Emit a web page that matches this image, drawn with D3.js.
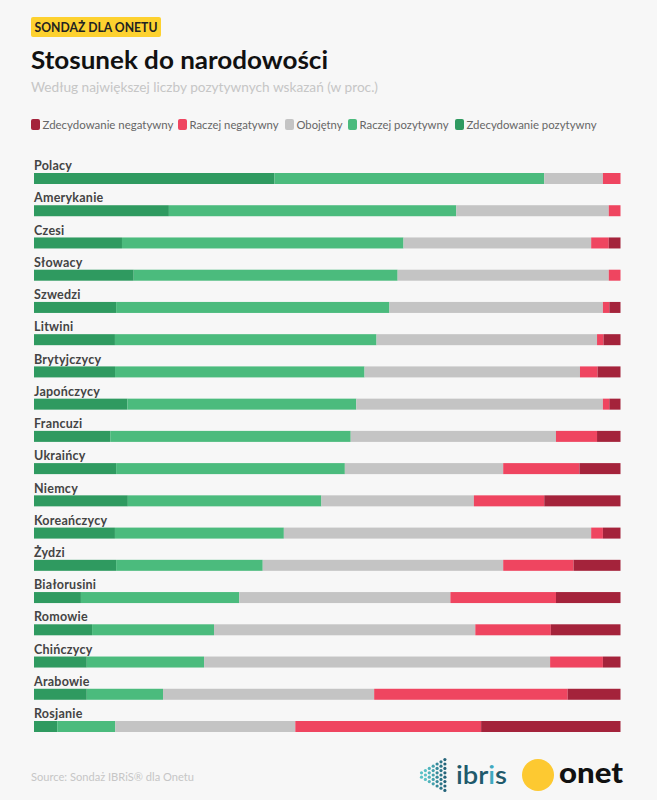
<!DOCTYPE html>
<html>
<head>
<meta charset="utf-8">
<script src="https://cdn.jsdelivr.net/npm/d3@7"></script>
<style>
  html, body { margin: 0; background: #f7f7f7; }
  text { font-family: Lato, "Noto Sans", sans-serif; }
</style>
</head>
<body>
<svg width="657" height="800"></svg>
<script>
const nations = ["Polacy", "Amerykanie", "Czesi", "Słowacy", "Szwedzi", "Litwini", "Brytyjczycy", "Japończycy", "Francuzi", "Ukraińcy", "Niemcy", "Koreańczycy", "Żydzi", "Białorusini", "Romowie", "Chińczycy", "Arabowie", "Rosjanie"];

const strongPositive = [41, 23, 15, 17, 14, 13.8, 13.8, 15.9, 13, 14, 16, 13.8, 14, 8, 10, 9, 9, 4];
const ratherPositive = [46, 49, 48, 45, 46.6, 44.6, 42.5, 39, 41, 39, 33, 28.8, 25, 27, 21, 20, 13, 10];
const neutral = [10, 26, 32, 36, 36.4, 37.6, 36.7, 42, 35, 27, 26, 52.4, 41, 36, 45, 59, 36, 31];
const ratherNegative = [3, 2, 3, 2, 1.1, 1.1, 3, 1.1, 7, 13, 12, 2, 12, 18, 13, 9, 33, 32];
const strongNegative = [0, 0, 2, 0, 1.9, 2.9, 3.9, 1.9, 4, 7, 13, 3, 8, 11, 12, 3, 9, 24];

const seriesKeys = ["Zdecydowanie pozytywny", "Raczej pozytywny", "Obojętny", "Raczej negatywny", "Zdecydowanie negatywny"];
const seriesValues = [strongPositive, ratherPositive, neutral, ratherNegative, strongNegative];
const seriesColors = ["#2f9a60", "#4bbb7d", "#c4c4c4", "#ef4560", "#a4233b"];

// legend runs the other way round than the bars
const legendKeys = seriesKeys.slice().reverse();
const legendX = [31, 178, 285, 348, 455];
const legendTextWidth = [131, 89, 46, 89, 130];

const svg = d3.select("svg");

const rows = nations.map((name, i) => {
  const row = { name };
  seriesKeys.forEach((k, j) => { row[k] = seriesValues[j][i]; });
  return row;
});

const stacked = d3.stack().keys(seriesKeys).offset(d3.stackOffsetExpand)(rows);

const x = d3.scaleLinear().domain([0, 1]).range([34, 620.5]);
const y = d3.scalePoint().domain(nations).range([173, 721]);
const color = d3.scaleOrdinal().domain(seriesKeys).range(seriesColors);
const barHeight = 11;

// header
svg.append("rect").attr("x", 31).attr("y", 17).attr("width", 130).attr("height", 20).attr("rx", 2).attr("fill", "#fdd12f");
svg.append("text").attr("x", 34.5).attr("y", 32).attr("font-size", 13).attr("font-weight", 700).attr("fill", "#222")
  .attr("textLength", 123).attr("lengthAdjust", "spacingAndGlyphs").text("SONDAŻ DLA ONETU");
svg.append("text").attr("x", 31).attr("y", 69).attr("font-size", 25).attr("font-weight", 700).attr("fill", "#111")
  .attr("textLength", 297).attr("lengthAdjust", "spacingAndGlyphs").text("Stosunek do narodowości");
svg.append("text").attr("x", 31).attr("y", 92).attr("font-size", 14).attr("fill", "#c6c6c6")
  .attr("textLength", 347).attr("lengthAdjust", "spacingAndGlyphs").text("Według największej liczby pozytywnych wskazań (w proc.)");

// legend
const legend = svg.selectAll(".legend").data(legendKeys).enter().append("g")
  .attr("class", "legend")
  .attr("transform", (d, i) => `translate(${legendX[i]},119)`);
legend.append("rect").attr("width", 9).attr("height", 11).attr("rx", 2).attr("fill", d => color(d));
legend.append("text").attr("x", 11.5).attr("y", 10).attr("font-size", 12).attr("fill", "#666")
  .attr("textLength", (d, i) => legendTextWidth[i]).attr("lengthAdjust", "spacingAndGlyphs").text(d => d);

// bars
svg.selectAll(".series").data(stacked).enter().append("g")
  .attr("class", "series")
  .attr("fill", d => color(d.key))
  .selectAll("rect")
  .data(d => d)
  .enter()
  .append("rect")
  .attr("x", d => x(d[0]))
  .attr("y", d => y(d.data.name))
  .attr("width", d => x(d[1]) - x(d[0]))
  .attr("height", barHeight);

svg.selectAll(".label").data(nations).enter().append("text")
  .attr("class", "label")
  .attr("x", 34)
  .attr("y", d => y(d) - 2.8)
  .attr("font-size", 12.5)
  .attr("font-weight", 700)
  .attr("letter-spacing", 0.25)
  .attr("fill", "#444")
  .text(d => d);

// footer
svg.append("text").attr("x", 31).attr("y", 781).attr("font-size", 11.5).attr("fill", "#c6c6c6")
  .attr("textLength", 163).attr("lengthAdjust", "spacingAndGlyphs").text("Source: Sondaż IBRiS® dla Onetu");

// ibris mark: columns of dots widening to the right
const dotColumns = [2, 3, 4, 5, 6, 7, 8];
const dotColors = ["#58c2c6", "#58c2c6", "#4fb3bb", "#43a0ac", "#35899a", "#2b7487", "#24647a"];
const logo = svg.append("g").attr("transform", "translate(421.5,775)");
dotColumns.forEach((n, c) => {
  d3.range(n).forEach(k => {
    logo.append("circle")
      .attr("cx", c * 3.9)
      .attr("cy", (k - (n - 1) / 2) * 4.4)
      .attr("r", 1.6)
      .attr("fill", dotColors[c]);
  });
});
const ibris = svg.append("text").attr("x", 456).attr("y", 784).attr("font-size", 25)
  .attr("font-family", "Open Sans").attr("font-weight", 600).attr("fill", "#1f5a6c")
  .attr("textLength", 51).attr("lengthAdjust", "spacingAndGlyphs");
ibris.append("tspan").text("ibr");
ibris.append("tspan").attr("fill", "#3fa9c0").text("i");
ibris.append("tspan").text("s");
svg.append("circle").attr("cx", 538).attr("cy", 775).attr("r", 16).attr("fill", "#fdc931");
svg.append("text").attr("x", 559).attr("y", 783).attr("font-size", 28).attr("font-weight", 900).attr("fill", "#111")
  .attr("textLength", 64).attr("lengthAdjust", "spacingAndGlyphs").text("onet");
</script>
</body>
</html>
